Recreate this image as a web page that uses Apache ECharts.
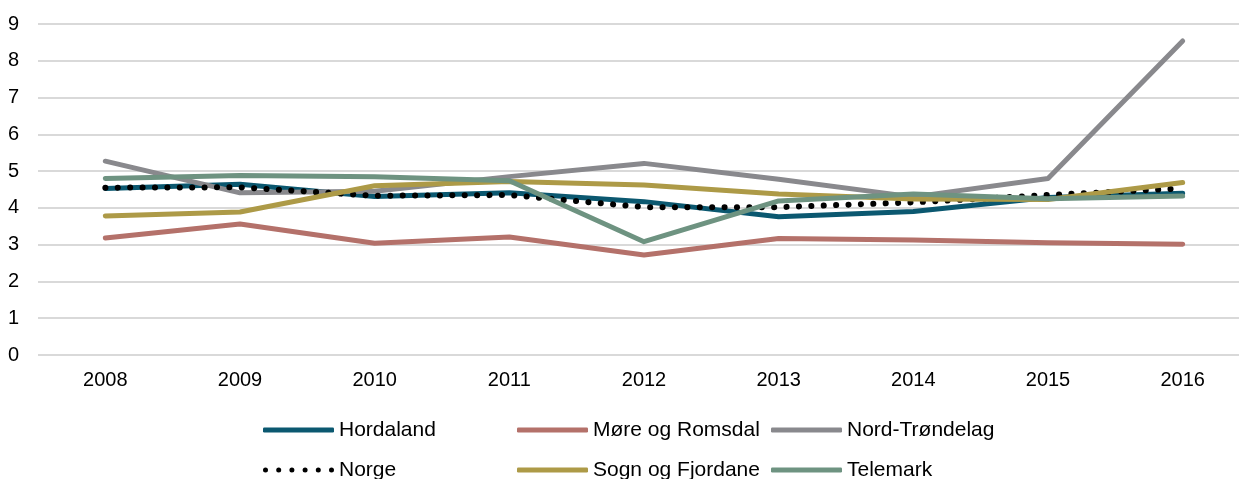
<!DOCTYPE html>
<html>
<head>
<meta charset="utf-8">
<script src="https://cdn.jsdelivr.net/npm/echarts@6/dist/echarts.min.js"></script>
<style>
  html, body { margin: 0; padding: 0; background: #fff; }
  #chart { width: 1239px; height: 479px; }
</style>
</head>
<body>
<div id="chart"></div>
<script>
const years = ['2008', '2009', '2010', '2011', '2012', '2013', '2014', '2015', '2016']
const hordaland = [4.53, 4.64, 4.31, 4.41, 4.17, 3.76, 3.90, 4.28, 4.40]
const moreRomsdal = [3.18, 3.56, 3.04, 3.21, 2.72, 3.17, 3.13, 3.05, 3.01]
const nordTrondelag = [5.27, 4.41, 4.45, 4.85, 5.21, 4.78, 4.30, 4.80, 8.54]
const norge = [4.55, 4.56, 4.33, 4.35, 4.02, 4.02, 4.15, 4.35, 4.53]
const sognFjordane = [3.78, 3.89, 4.60, 4.72, 4.62, 4.38, 4.24, 4.23, 4.69]
const telemark = [4.80, 4.88, 4.85, 4.74, 3.08, 4.19, 4.38, 4.25, 4.32]

const font = 'Liberation Sans, Arial, sans-serif'

// six round dots for the Norge legend swatch (box 71 x 5)
let dots = ''
for (let i = 0; i < 6; i++) {
  const cx = 2.5 + i * 13.2
  dots += 'M' + (cx - 2.5) + ',2.5a2.5,2.5 0 1,0 5,0a2.5,2.5 0 1,0 -5,0z'
}

function lineSeries (name, data, color, extra) {
  return Object.assign({
    name: name,
    type: 'line',
    data: data,
    symbol: 'none',
    lineStyle: { color: color, width: 5, cap: 'round', join: 'round' },
    itemStyle: { color: color }
  }, extra || {})
}

const chart = echarts.init(document.getElementById('chart'))
chart.setOption({
  animation: false,
  grid: {
    left: 38,
    top: 24,
    width: 1212,
    bottom: 124,
    containLabel: false,
    outerBoundsMode: 'none'
  },
  legend: {
    left: 263,
    top: 410,
    width: 770,
    padding: 0,
    itemGap: 0,
    itemWidth: 71,
    itemHeight: 5,
    icon: 'roundRect',
    textStyle: {
      fontFamily: font,
      fontSize: 21,
      color: '#000',
      width: 178,
      lineHeight: 40,
      overflow: 'none'
    },
    data: [
      { name: 'Hordaland' },
      { name: 'Møre og Romsdal' },
      { name: 'Nord-Trøndelag' },
      { name: 'Norge', icon: 'path://' + dots },
      { name: 'Sogn og Fjordane' },
      { name: 'Telemark' }
    ]
  },
  xAxis: {
    type: 'category',
    data: years,
    boundaryGap: true,
    axisLine: { show: false },
    axisTick: { show: false },
    axisLabel: { fontFamily: font, fontSize: 20, color: '#000', margin: 15 }
  },
  yAxis: {
    type: 'value',
    min: 0,
    max: 9,
    interval: 1,
    axisLine: { show: false },
    axisTick: { show: false },
    axisLabel: { fontFamily: font, fontSize: 20, color: '#000', margin: 19 },
    splitLine: { lineStyle: { color: '#d9d9d9', width: 2 } }
  },
  series: [
    lineSeries('Hordaland', hordaland, '#0b5870'),
    lineSeries('Møre og Romsdal', moreRomsdal, '#b4716a'),
    lineSeries('Nord-Trøndelag', nordTrondelag, '#89898d'),
    lineSeries('Norge', norge, '#000000', {
      lineStyle: { color: '#000', width: 6, type: [0.1, 12.3], cap: 'round' }
    }),
    lineSeries('Sogn og Fjordane', sognFjordane, '#ad9a47'),
    lineSeries('Telemark', telemark, '#6e9381')
  ]
})
</script>
</body>
</html>
